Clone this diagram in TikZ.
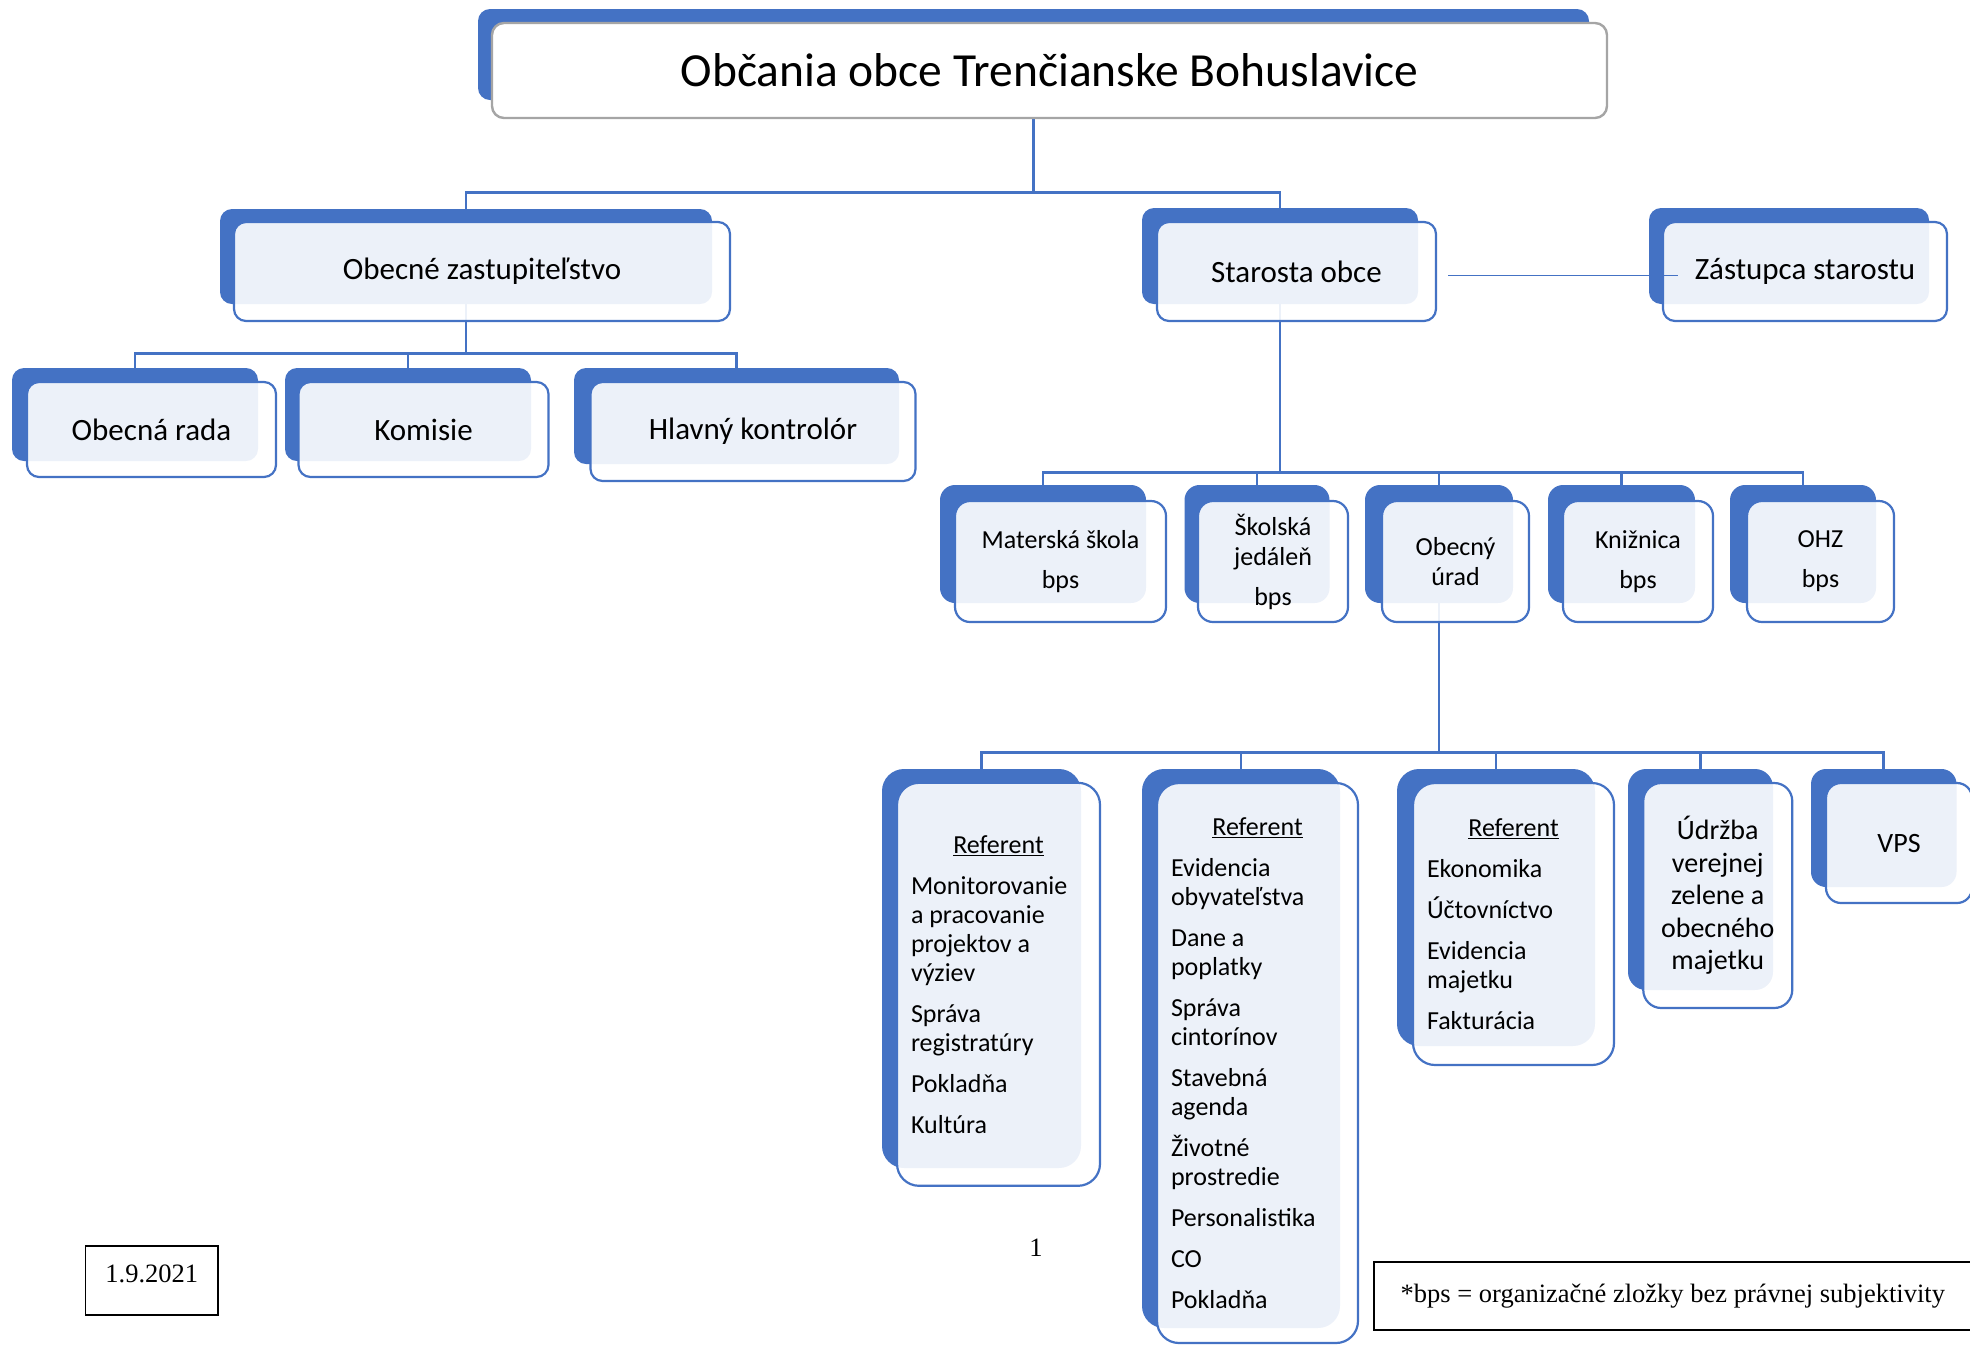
\documentclass[tikz,border=0pt]{standalone}
\usepackage{fontspec}
\setmainfont{Carlito}
\newfontfamily\timesfont{Liberation Serif}
\usepackage{tikz}
\definecolor{bblue}{HTML}{4472C4}
\definecolor{tgray}{HTML}{A5A5A5}

\begin{document}
\begin{tikzpicture}[x=1pt,y=-1pt]

\tikzset{
  backbox/.style={fill=bblue, rounded corners=12, inner sep=0},
  frontbox/.style={draw=bblue, line width=2.2, fill=white, fill opacity=0.9, text opacity=1, rounded corners=12, inner sep=0, align=center},
  titlebox/.style={draw=tgray, line width=2.4, fill=white, rounded corners=12, inner sep=0},
  refbox/.style={frontbox, rounded corners=22, align=flush left, inner xsep=14, font=\fontsize{26}{29}\selectfont},
  conn/.style={draw=bblue, line width=2.6},
  fsA/.style={font=\fontsize{31}{37}\selectfont},
  fsB/.style={font=\fontsize{26}{30}\selectfont},
  foot/.style={font=\timesfont\fontsize{26.5}{32}\selectfont}
}

\useasboundingbox (0,0) rectangle (1970,1345);
%\draw[help lines] (0,0) grid[xstep=100,ystep=100] (1970,1345);

% blue backs
\node[backbox, minimum width=1111, minimum height=91] (titleB) at (1033.5,54.5) {};

\node[backbox, minimum width=492, minimum height=95] (zastB) at (466,256.5) {};
\node[backbox, minimum width=276, minimum height=96] (staroB) at (1280,256) {};
\node[backbox, minimum width=280, minimum height=96] (zastupB) at (1789,256) {};

\node[backbox, minimum width=246, minimum height=93] (radaB) at (135,414.5) {};
\node[backbox, minimum width=246, minimum height=93] (komB) at (408,414.5) {};
\node[backbox, minimum width=325, minimum height=96] (kontrB) at (736.5,416) {};

\node[backbox, rounded corners=15, minimum width=206, minimum height=118] (msB) at (1043,544) {};
\node[backbox, rounded corners=15, minimum width=145, minimum height=118] (sjB) at (1257,544) {};
\node[backbox, rounded corners=15, minimum width=148, minimum height=118] (ouB) at (1439,544) {};
\node[backbox, rounded corners=15, minimum width=147, minimum height=118] (kniB) at (1621.5,544) {};
\node[backbox, rounded corners=15, minimum width=146, minimum height=118] (ohzB) at (1803,544) {};

\node[backbox, rounded corners=22, minimum width=199, minimum height=399] (ref1B) at (981.5,968.5) {};
\node[backbox, rounded corners=22, minimum width=198, minimum height=559] (ref2B) at (1241,1048.5) {};
\node[backbox, rounded corners=22, minimum width=198, minimum height=277] (ref3B) at (1496,907.5) {};
\node[backbox, rounded corners=18, minimum width=145, minimum height=221] (udrB) at (1700.5,879.5) {};
\node[backbox, rounded corners=15, minimum width=145.5, minimum height=118] (vpsB) at (1883.75,828) {};

% lines
\draw[conn] (titleB.south) -- ++(0,92) -| (zastB.north);
\draw[conn] (titleB.south) -- ++(0,92) -| (staroB.north);

\foreach \c in {radaB,komB,kontrB}
  \draw[conn] (zastB.south) -- ++(0,49) -| (\c.north);

\foreach \c in {msB,sjB,ouB,kniB,ohzB}
  \draw[conn] (staroB.south) -- ++(0,168) -| (\c.north);

\foreach \c in {ref1B,ref2B,ref3B,udrB,vpsB}
  \draw[conn] (ouB.south) -- ++(0,149) -| (\c.north);

% boxes
\node[titlebox, minimum width=1115, minimum height=95, font=\fontsize{47.5}{56}\selectfont] (title) at (1049.5,70.5) {Občania obce Trenčianske Bohuslavice};

\node[frontbox, fsA, minimum width=496, minimum height=99] (zast) at (482,271.5) {Obecné zastupiteľstvo};
\node[frontbox, fsA, minimum width=279, minimum height=99] (staro) at (1296.5,271.5) {Starosta obce};
\node[frontbox, fsA, minimum width=284, minimum height=99] (zastup) at (1805,271.5) {Zástupca starostu};

\node[frontbox, fsA, minimum width=249, minimum height=95] (rada) at (151.5,429.5) {Obecná rada};
\node[frontbox, fsA, minimum width=250, minimum height=95] (kom) at (423.5,429.5) {Komisie};
\node[frontbox, fsA, minimum width=325, minimum height=99] (kontr) at (753,431.5) {Hlavný kontrolór};

\node[frontbox, fsB, rounded corners=15, minimum width=211, minimum height=121] (ms) at (1060.5,561.5) {Materská škola\\[10pt]bps};
\node[frontbox, fsB, rounded corners=15, minimum width=150, minimum height=121] (sj) at (1273,561.5) {Školská\\jedáleň\\[10pt]bps};
\node[frontbox, fsB, rounded corners=15, minimum width=147, minimum height=121] (ou) at (1455.5,561.5) {Obecný\\úrad};
\node[frontbox, fsB, rounded corners=15, minimum width=150, minimum height=121] (kni) at (1638,561.5) {Knižnica\\[10pt]bps};
\node[frontbox, fsB, rounded corners=15, minimum width=147, minimum height=121] (ohz) at (1820.5,561.5) {OHZ\\[10pt]bps};

\node[refbox, text width=175pt, minimum width=203, minimum height=403] (ref1) at (998.5,984.3)
  {\makebox[\linewidth]{\underline{Referent}}\\[12pt]Monitorovanie\\a pracovanie\\projektov a\\výziev\\[12pt]Správa\\registratúry\\[12pt]Pokladňa\\[12pt]Kultúra};
\node[refbox, text width=173pt, minimum width=201, minimum height=560] (ref2) at (1257.5,1063)
  {\makebox[\linewidth]{\underline{Referent}}\\[12pt]Evidencia\\obyvateľstva\\[12pt]Dane a\\poplatky\\[12pt]Správa\\cintorínov\\[12pt]Stavebná\\agenda\\[12pt]Životné\\prostredie\\[12pt]Personalistika\\[12pt]CO\\[12pt]Pokladňa};
\node[refbox, text width=173pt, minimum width=201, minimum height=282] (ref3) at (1513.5,924)
  {\makebox[\linewidth]{\underline{Referent}}\\[12pt]Ekonomika\\[12pt]Účtovníctvo\\[12pt]Evidencia\\majetku\\[12pt]Fakturácia};
\node[frontbox, rounded corners=18, minimum width=149, minimum height=225, font=\fontsize{28}{32.5}\selectfont] (udr) at (1717.75,895.5) {Údržba\\verejnej\\zelene a\\obecného\\majetku};
\node[frontbox, rounded corners=15, minimum width=146, minimum height=120, font=\fontsize{28}{33}\selectfont] (vps) at (1899,843) {VPS};

\draw[bblue, line width=1.5] ([shift={(11,4)}]staro.east) -- ([shift={(16,4)}]zastup.west);

% footer
\node[foot, draw, line width=1.8, minimum width=132.5, minimum height=69, inner sep=0, text height=18pt, text depth=15pt] (datum) at (151.75,1280.5) {1.9.2021};
\node[foot, inner sep=0] (strana) at (1036,1248) {1};
\node[foot, draw, line width=1.8, minimum width=598, minimum height=68, inner sep=0] (pozn) at (1672.8,1295.9) {*bps = organizačné zložky bez právnej subjektivity};

\end{tikzpicture}
\end{document}
